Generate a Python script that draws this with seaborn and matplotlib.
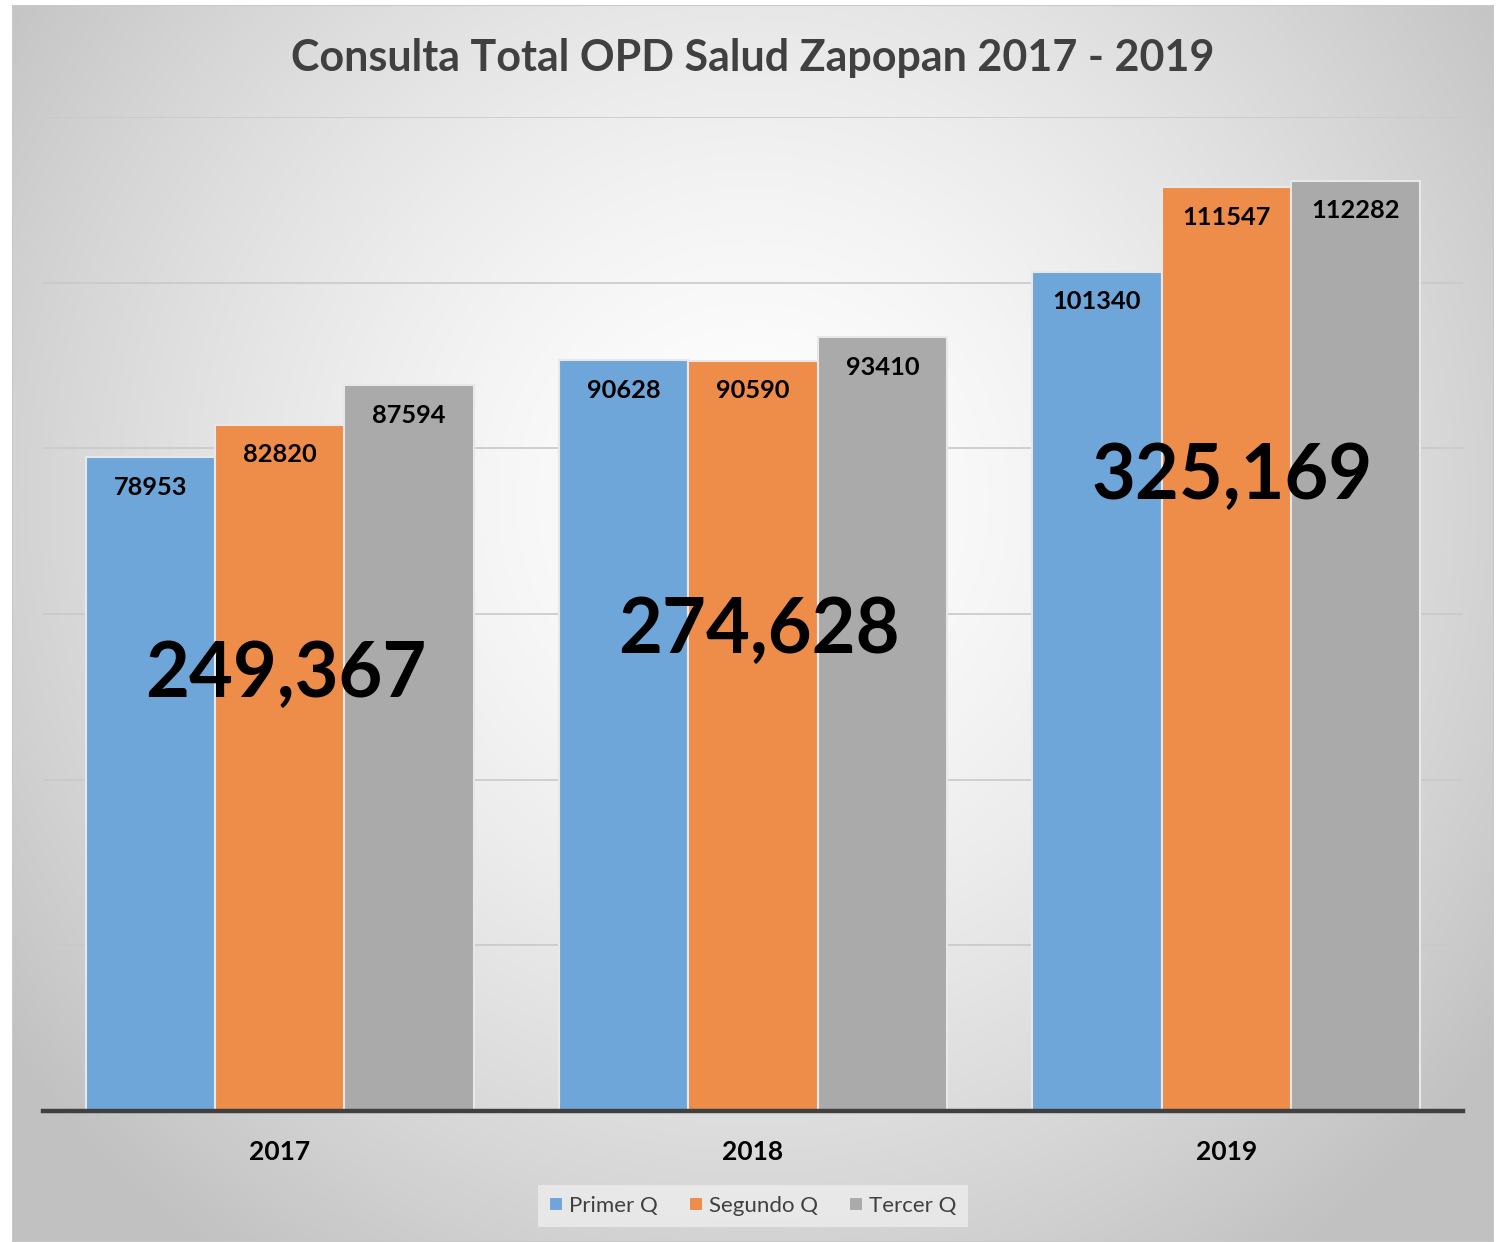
import numpy as np
import pandas as pd
import matplotlib
matplotlib.use("Agg")
import matplotlib.pyplot as plt
from matplotlib.patches import Rectangle
import seaborn as sns

years = ["2017", "2018", "2019"]
series = ["Primer Q", "Segundo Q", "Tercer Q"]
primer_q = [78953, 90628, 101340]
segundo_q = [82820, 90590, 111547]
tercer_q = [87594, 93410, 112282]
totals = ["249,367", "274,628", "325,169"]
title = "Consulta Total OPD Salud Zapopan 2017 - 2019"

colors = ["#6FA6D9", "#EE8C4A", "#AAAAAA"]

df = pd.DataFrame({
    "Año": years * 3,
    "Serie": [s for s in series for _ in years],
    "Valor": primer_q + segundo_q + tercer_q,
})

sns.set_theme(style="white")
plt.rcParams["font.family"] = ["Lato", "DejaVu Sans"]

W, H = 1496, 1242
fig = plt.figure(figsize=(W / 100, H / 100), dpi=100)
fig.patch.set_facecolor("white")

# gradient background of chart area
bx0, by0, bx1, by1 = 12, 5, 1494, 1242
bg = fig.add_axes([bx0 / W, 1 - by1 / H, (bx1 - bx0) / W, (by1 - by0) / H], zorder=0)
gx = np.linspace(0, 1, 400)
gy = np.linspace(0, 1, 340)
X, Y = np.meshgrid(gx, gy)
cx, cy = 0.50, 0.40
r = np.sqrt(((X - cx) / 0.62) ** 2 + ((Y - cy) / 0.75) ** 2)
r = np.clip(r, 0, 1)
lum = 1.0 - 0.24 * r ** 1.5
img = np.dstack([lum, lum, lum])
bg.imshow(img, aspect="auto", extent=[0, 1, 1, 0], interpolation="bilinear")
bg.set_xlim(0, 1)
bg.set_ylim(1, 0)
bg.axis("off")
bg.add_patch(Rectangle((0, 0), 1, 1, transform=bg.transAxes, fill=False,
                       edgecolor="#C8C8C8", linewidth=1.5))

# main axes
ax_l, ax_r, ax_t, ax_b = 43, 1463, 117, 1111
ax = fig.add_axes([ax_l / W, 1 - ax_b / H, (ax_r - ax_l) / W, (ax_b - ax_t) / H], zorder=1)
ax.set_facecolor("none")

sns.barplot(data=df, x="Año", y="Valor", hue="Serie", palette=colors,
            width=0.82, gap=0, saturation=1, edgecolor="#E8E8E8", linewidth=1.5,
            ax=ax, zorder=3, legend=True)

ax.set_ylim(0, 120000)
ax.set_xlim(-0.5, 2.5)
ax.set_yticks(np.arange(0, 120001, 20000))
ax.yaxis.grid(True, color="#C9C9C9", linewidth=1.2, zorder=0)
ax.set_axisbelow(True)
ax.set_yticklabels([])
ax.tick_params(axis="y", length=0)
ax.tick_params(axis="x", length=0, pad=21)
for lab in ax.get_xticklabels():
    lab.set_fontsize(19)
    lab.set_fontweight("bold")
    lab.set_color("black")
ax.set_xlabel("")
ax.set_ylabel("")
for s in ["top", "right", "left"]:
    ax.spines[s].set_visible(False)
ax.spines["bottom"].set_color("#404040")
ax.spines["bottom"].set_linewidth(3.2)
ax.spines["bottom"].set_zorder(5)

# value labels inside bar tops
for cont in ax.containers:
    for bar in cont:
        h = bar.get_height()
        ax.annotate(f"{int(h)}", (bar.get_x() + bar.get_width() / 2, h),
                    xytext=(0, -30), textcoords="offset pixels",
                    ha="center", va="center", fontsize=18.3, fontweight="bold",
                    color="black", zorder=6)

# big totals
total_y = [52600, 58000, 76600]
for i, t in enumerate(totals):
    ax.text(i + 0.013, total_y[i], t, ha="center", va="center", fontsize=54.5,
            fontweight="bold", color="black", zorder=7)

# title
fig.text(753 / W, 1 - 58 / H, title, ha="center", va="center", fontsize=31,
         fontweight="bold", color="#404040", zorder=3)

# legend
handles, labels = ax.get_legend_handles_labels()
if ax.legend_:
    ax.legend_.remove()
leg = fig.legend(handles, labels, loc="center", bbox_to_anchor=(753 / W, 1 - 1206 / H),
                 ncol=3, frameon=True, fontsize=16, handlelength=0.6, handleheight=0.6,
                 handletextpad=0.3, columnspacing=1.4, borderpad=0.5, fancybox=False)
leg.get_frame().set_facecolor("#EDEDED")
leg.get_frame().set_edgecolor("none")
leg.set_zorder(4)
for txt in leg.get_texts():
    txt.set_color("#404040")

fig.savefig("out.png", dpi=100)
